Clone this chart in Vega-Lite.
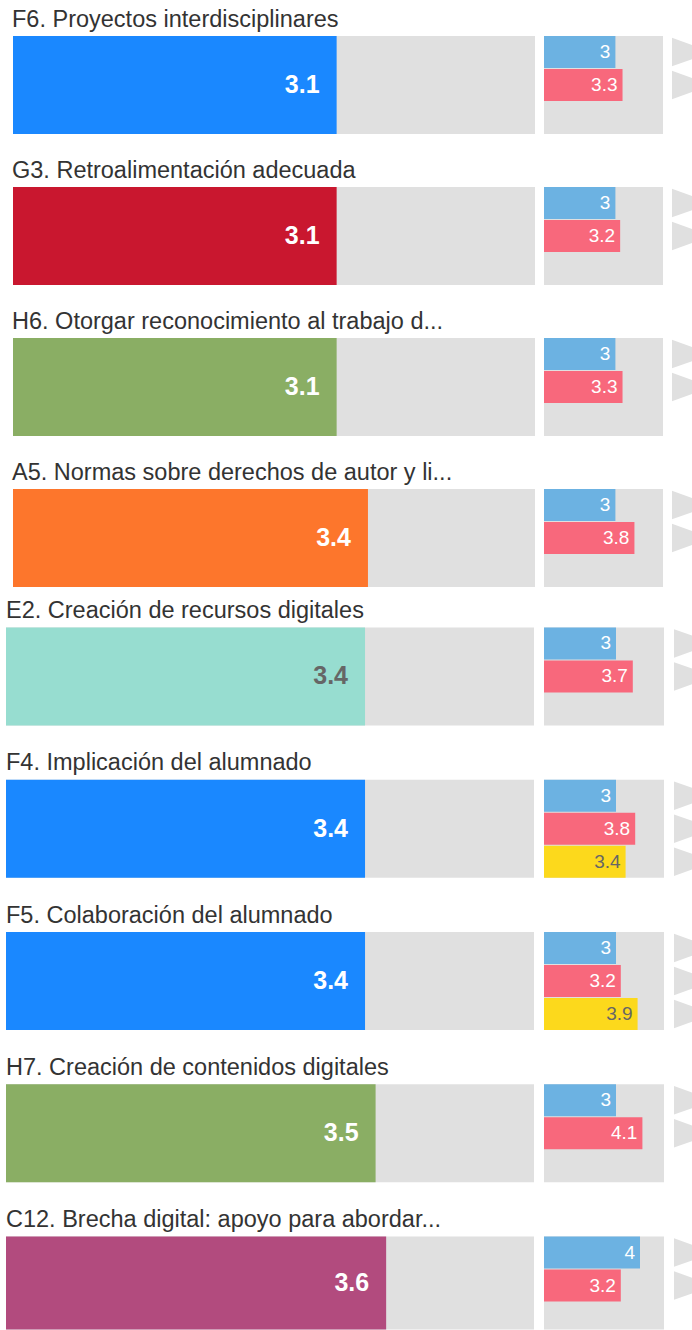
{
  "$schema": "https://vega.github.io/schema/vega-lite/v6.json",
  "padding": {"left": 6, "top": 7, "right": 0, "bottom": 0},
  "background": "white",
  "config": {
    "view": {"stroke": null},
    "font": "Liberation Sans",
    "title": {"font": "Liberation Sans", "fontSize": 23.5, "fontWeight": "normal", "color": "#333333", "anchor": "start", "frame": "group", "baseline": "alphabetic", "offset": 5},
    "style": {
      "big": {"align": "right", "baseline": "middle", "dx": -17, "fontSize": 25, "fontWeight": "bold", "font": "Liberation Sans"},
      "small": {"align": "right", "baseline": "middle", "dx": -5, "fontSize": 19, "font": "Liberation Sans"}
    }
  },
  "datasets": {
    "main": [
      {"id": "F6", "area": "F", "value": 3.1},
      {"id": "G3", "area": "G", "value": 3.1},
      {"id": "H6", "area": "H", "value": 3.1},
      {"id": "A5", "area": "A", "value": 3.4},
      {"id": "E2", "area": "E", "value": 3.4},
      {"id": "F4", "area": "F", "value": 3.4},
      {"id": "F5", "area": "F", "value": 3.4},
      {"id": "H7", "area": "H", "value": 3.5},
      {"id": "C12", "area": "C", "value": 3.6}
    ],
    "sub": [
      {"id": "F6", "s": "s1", "value": 3}, {"id": "F6", "s": "s2", "value": 3.3},
      {"id": "G3", "s": "s1", "value": 3}, {"id": "G3", "s": "s2", "value": 3.2},
      {"id": "H6", "s": "s1", "value": 3}, {"id": "H6", "s": "s2", "value": 3.3},
      {"id": "A5", "s": "s1", "value": 3}, {"id": "A5", "s": "s2", "value": 3.8},
      {"id": "E2", "s": "s1", "value": 3}, {"id": "E2", "s": "s2", "value": 3.7},
      {"id": "F4", "s": "s1", "value": 3}, {"id": "F4", "s": "s2", "value": 3.8}, {"id": "F4", "s": "s3", "value": 3.4},
      {"id": "F5", "s": "s1", "value": 3}, {"id": "F5", "s": "s2", "value": 3.2}, {"id": "F5", "s": "s3", "value": 3.9},
      {"id": "H7", "s": "s1", "value": 3}, {"id": "H7", "s": "s2", "value": 4.1},
      {"id": "C12", "s": "s1", "value": 4}, {"id": "C12", "s": "s2", "value": 3.2}
    ]
  },
  "spacing": 11.4,
  "vconcat": [
    {
      "spacing": 24,
      "vconcat": [
        {
          "title": {"text": "F6. Proyectos interdisciplinares", "dx": 6},
          "spacing": 9,
          "hconcat": [
            {"width": 529, "height": 98, "data": {"name": "main"}, "transform": [{"filter": "datum.id === 'F6'"}],
             "encoding": {"x": {"field": "value", "type": "quantitative", "scale": {"domain": [0, 5], "range": [7, 529]}, "axis": null},
                          "y": {"field": "id", "type": "nominal", "scale": {"type": "band", "paddingInner": 0, "paddingOuter": 0}, "axis": null}},
             "layer": [
               {"mark": {"type": "bar", "color": "#e0e0e0"}, "encoding": {"x": {"datum": 5, "type": "quantitative"}, "x2": {"datum": 0}}},
               {"mark": {"type": "bar"}, "encoding": {"color": {"field": "area", "type": "nominal", "scale": {"domain": ["F", "G", "H", "A", "E", "C"], "range": ["#1a88ff", "#c9172f", "#8aae64", "#fd762c", "#97ddd0", "#b24b7e"]}, "legend": null}}},
               {"mark": {"type": "text", "style": "big"}, "encoding": {"text": {"field": "value", "type": "quantitative", "format": ".1f"}, "color": {"condition": {"test": "datum.area === 'E'", "value": "#666666"}, "value": "#ffffff"}}}
             ]},
            {"width": 119, "height": 98,
             "layer": [
               {"data": {"name": "main"}, "transform": [{"filter": "datum.id === 'F6'"}], "mark": {"type": "bar", "color": "#e0e0e0"},
                "encoding": {"x": {"datum": 5, "type": "quantitative", "scale": {"domain": [0, 5]}, "axis": null}, "x2": {"datum": 0},
                             "y": {"field": "id", "type": "nominal", "scale": {"type": "band", "paddingInner": 0, "paddingOuter": 0}, "axis": null}}},
               {"data": {"name": "sub"}, "transform": [{"filter": "datum.id === 'F6'"}], "mark": {"type": "bar"},
                "encoding": {"x": {"field": "value", "type": "quantitative", "axis": null},
                             "y": {"field": "s", "type": "nominal", "scale": {"type": "band", "domain": ["s1", "s2", "s3"], "paddingInner": 0.03, "paddingOuter": 0}, "axis": null},
                             "fill": {"field": "s", "type": "nominal", "scale": {"domain": ["s1", "s2", "s3"], "range": ["#6cb2e2", "#f8687c", "#fcd91c"]}, "legend": null}}},
               {"data": {"name": "sub"}, "transform": [{"filter": "datum.id === 'F6'"}], "mark": {"type": "text", "style": "small"},
                "encoding": {"x": {"field": "value", "type": "quantitative", "axis": null},
                             "y": {"field": "s", "type": "nominal", "scale": {"type": "band", "domain": ["s1", "s2", "s3"], "paddingInner": 0.03, "paddingOuter": 0}, "axis": null},
                             "text": {"field": "value", "type": "quantitative"},
                             "color": {"condition": {"test": "datum.s === 's3'", "value": "#666666"}, "value": "#ffffff"}}}
             ],
             "resolve": {"scale": {"y": "independent"}}},
            {"width": 20, "height": 98, "data": {"name": "sub"}, "transform": [{"filter": "datum.id === 'F6'"}],
             "mark": {"type": "point", "shape": "M-0.74,-1L2.07,0L-0.74,1Z", "size": 841, "filled": true, "opacity": 1, "color": "#e0e0e0", "strokeWidth": 0, "clip": true},
             "encoding": {"y": {"field": "s", "type": "nominal", "scale": {"type": "band", "domain": ["s1", "s2", "s3"], "paddingInner": 0.03, "paddingOuter": 0}, "axis": null}}}
          ]
        },
        {
          "title": {"text": "G3. Retroalimentación adecuada", "dx": 6},
          "spacing": 9,
          "hconcat": [
            {"width": 529, "height": 98, "data": {"name": "main"}, "transform": [{"filter": "datum.id === 'G3'"}],
             "encoding": {"x": {"field": "value", "type": "quantitative", "scale": {"domain": [0, 5], "range": [7, 529]}, "axis": null},
                          "y": {"field": "id", "type": "nominal", "scale": {"type": "band", "paddingInner": 0, "paddingOuter": 0}, "axis": null}},
             "layer": [
               {"mark": {"type": "bar", "color": "#e0e0e0"}, "encoding": {"x": {"datum": 5, "type": "quantitative"}, "x2": {"datum": 0}}},
               {"mark": {"type": "bar"}, "encoding": {"color": {"field": "area", "type": "nominal", "scale": {"domain": ["F", "G", "H", "A", "E", "C"], "range": ["#1a88ff", "#c9172f", "#8aae64", "#fd762c", "#97ddd0", "#b24b7e"]}, "legend": null}}},
               {"mark": {"type": "text", "style": "big"}, "encoding": {"text": {"field": "value", "type": "quantitative", "format": ".1f"}, "color": {"condition": {"test": "datum.area === 'E'", "value": "#666666"}, "value": "#ffffff"}}}
             ]},
            {"width": 119, "height": 98,
             "layer": [
               {"data": {"name": "main"}, "transform": [{"filter": "datum.id === 'G3'"}], "mark": {"type": "bar", "color": "#e0e0e0"},
                "encoding": {"x": {"datum": 5, "type": "quantitative", "scale": {"domain": [0, 5]}, "axis": null}, "x2": {"datum": 0},
                             "y": {"field": "id", "type": "nominal", "scale": {"type": "band", "paddingInner": 0, "paddingOuter": 0}, "axis": null}}},
               {"data": {"name": "sub"}, "transform": [{"filter": "datum.id === 'G3'"}], "mark": {"type": "bar"},
                "encoding": {"x": {"field": "value", "type": "quantitative", "axis": null},
                             "y": {"field": "s", "type": "nominal", "scale": {"type": "band", "domain": ["s1", "s2", "s3"], "paddingInner": 0.03, "paddingOuter": 0}, "axis": null},
                             "fill": {"field": "s", "type": "nominal", "scale": {"domain": ["s1", "s2", "s3"], "range": ["#6cb2e2", "#f8687c", "#fcd91c"]}, "legend": null}}},
               {"data": {"name": "sub"}, "transform": [{"filter": "datum.id === 'G3'"}], "mark": {"type": "text", "style": "small"},
                "encoding": {"x": {"field": "value", "type": "quantitative", "axis": null},
                             "y": {"field": "s", "type": "nominal", "scale": {"type": "band", "domain": ["s1", "s2", "s3"], "paddingInner": 0.03, "paddingOuter": 0}, "axis": null},
                             "text": {"field": "value", "type": "quantitative"},
                             "color": {"condition": {"test": "datum.s === 's3'", "value": "#666666"}, "value": "#ffffff"}}}
             ],
             "resolve": {"scale": {"y": "independent"}}},
            {"width": 20, "height": 98, "data": {"name": "sub"}, "transform": [{"filter": "datum.id === 'G3'"}],
             "mark": {"type": "point", "shape": "M-0.74,-1L2.07,0L-0.74,1Z", "size": 841, "filled": true, "opacity": 1, "color": "#e0e0e0", "strokeWidth": 0, "clip": true},
             "encoding": {"y": {"field": "s", "type": "nominal", "scale": {"type": "band", "domain": ["s1", "s2", "s3"], "paddingInner": 0.03, "paddingOuter": 0}, "axis": null}}}
          ]
        },
        {
          "title": {"text": "H6. Otorgar reconocimiento al trabajo d...", "dx": 6},
          "spacing": 9,
          "hconcat": [
            {"width": 529, "height": 98, "data": {"name": "main"}, "transform": [{"filter": "datum.id === 'H6'"}],
             "encoding": {"x": {"field": "value", "type": "quantitative", "scale": {"domain": [0, 5], "range": [7, 529]}, "axis": null},
                          "y": {"field": "id", "type": "nominal", "scale": {"type": "band", "paddingInner": 0, "paddingOuter": 0}, "axis": null}},
             "layer": [
               {"mark": {"type": "bar", "color": "#e0e0e0"}, "encoding": {"x": {"datum": 5, "type": "quantitative"}, "x2": {"datum": 0}}},
               {"mark": {"type": "bar"}, "encoding": {"color": {"field": "area", "type": "nominal", "scale": {"domain": ["F", "G", "H", "A", "E", "C"], "range": ["#1a88ff", "#c9172f", "#8aae64", "#fd762c", "#97ddd0", "#b24b7e"]}, "legend": null}}},
               {"mark": {"type": "text", "style": "big"}, "encoding": {"text": {"field": "value", "type": "quantitative", "format": ".1f"}, "color": {"condition": {"test": "datum.area === 'E'", "value": "#666666"}, "value": "#ffffff"}}}
             ]},
            {"width": 119, "height": 98,
             "layer": [
               {"data": {"name": "main"}, "transform": [{"filter": "datum.id === 'H6'"}], "mark": {"type": "bar", "color": "#e0e0e0"},
                "encoding": {"x": {"datum": 5, "type": "quantitative", "scale": {"domain": [0, 5]}, "axis": null}, "x2": {"datum": 0},
                             "y": {"field": "id", "type": "nominal", "scale": {"type": "band", "paddingInner": 0, "paddingOuter": 0}, "axis": null}}},
               {"data": {"name": "sub"}, "transform": [{"filter": "datum.id === 'H6'"}], "mark": {"type": "bar"},
                "encoding": {"x": {"field": "value", "type": "quantitative", "axis": null},
                             "y": {"field": "s", "type": "nominal", "scale": {"type": "band", "domain": ["s1", "s2", "s3"], "paddingInner": 0.03, "paddingOuter": 0}, "axis": null},
                             "fill": {"field": "s", "type": "nominal", "scale": {"domain": ["s1", "s2", "s3"], "range": ["#6cb2e2", "#f8687c", "#fcd91c"]}, "legend": null}}},
               {"data": {"name": "sub"}, "transform": [{"filter": "datum.id === 'H6'"}], "mark": {"type": "text", "style": "small"},
                "encoding": {"x": {"field": "value", "type": "quantitative", "axis": null},
                             "y": {"field": "s", "type": "nominal", "scale": {"type": "band", "domain": ["s1", "s2", "s3"], "paddingInner": 0.03, "paddingOuter": 0}, "axis": null},
                             "text": {"field": "value", "type": "quantitative"},
                             "color": {"condition": {"test": "datum.s === 's3'", "value": "#666666"}, "value": "#ffffff"}}}
             ],
             "resolve": {"scale": {"y": "independent"}}},
            {"width": 20, "height": 98, "data": {"name": "sub"}, "transform": [{"filter": "datum.id === 'H6'"}],
             "mark": {"type": "point", "shape": "M-0.74,-1L2.07,0L-0.74,1Z", "size": 841, "filled": true, "opacity": 1, "color": "#e0e0e0", "strokeWidth": 0, "clip": true},
             "encoding": {"y": {"field": "s", "type": "nominal", "scale": {"type": "band", "domain": ["s1", "s2", "s3"], "paddingInner": 0.03, "paddingOuter": 0}, "axis": null}}}
          ]
        },
        {
          "title": {"text": "A5. Normas sobre derechos de autor y li...", "dx": 6},
          "spacing": 9,
          "hconcat": [
            {"width": 529, "height": 98, "data": {"name": "main"}, "transform": [{"filter": "datum.id === 'A5'"}],
             "encoding": {"x": {"field": "value", "type": "quantitative", "scale": {"domain": [0, 5], "range": [7, 529]}, "axis": null},
                          "y": {"field": "id", "type": "nominal", "scale": {"type": "band", "paddingInner": 0, "paddingOuter": 0}, "axis": null}},
             "layer": [
               {"mark": {"type": "bar", "color": "#e0e0e0"}, "encoding": {"x": {"datum": 5, "type": "quantitative"}, "x2": {"datum": 0}}},
               {"mark": {"type": "bar"}, "encoding": {"color": {"field": "area", "type": "nominal", "scale": {"domain": ["F", "G", "H", "A", "E", "C"], "range": ["#1a88ff", "#c9172f", "#8aae64", "#fd762c", "#97ddd0", "#b24b7e"]}, "legend": null}}},
               {"mark": {"type": "text", "style": "big"}, "encoding": {"text": {"field": "value", "type": "quantitative", "format": ".1f"}, "color": {"condition": {"test": "datum.area === 'E'", "value": "#666666"}, "value": "#ffffff"}}}
             ]},
            {"width": 119, "height": 98,
             "layer": [
               {"data": {"name": "main"}, "transform": [{"filter": "datum.id === 'A5'"}], "mark": {"type": "bar", "color": "#e0e0e0"},
                "encoding": {"x": {"datum": 5, "type": "quantitative", "scale": {"domain": [0, 5]}, "axis": null}, "x2": {"datum": 0},
                             "y": {"field": "id", "type": "nominal", "scale": {"type": "band", "paddingInner": 0, "paddingOuter": 0}, "axis": null}}},
               {"data": {"name": "sub"}, "transform": [{"filter": "datum.id === 'A5'"}], "mark": {"type": "bar"},
                "encoding": {"x": {"field": "value", "type": "quantitative", "axis": null},
                             "y": {"field": "s", "type": "nominal", "scale": {"type": "band", "domain": ["s1", "s2", "s3"], "paddingInner": 0.03, "paddingOuter": 0}, "axis": null},
                             "fill": {"field": "s", "type": "nominal", "scale": {"domain": ["s1", "s2", "s3"], "range": ["#6cb2e2", "#f8687c", "#fcd91c"]}, "legend": null}}},
               {"data": {"name": "sub"}, "transform": [{"filter": "datum.id === 'A5'"}], "mark": {"type": "text", "style": "small"},
                "encoding": {"x": {"field": "value", "type": "quantitative", "axis": null},
                             "y": {"field": "s", "type": "nominal", "scale": {"type": "band", "domain": ["s1", "s2", "s3"], "paddingInner": 0.03, "paddingOuter": 0}, "axis": null},
                             "text": {"field": "value", "type": "quantitative"},
                             "color": {"condition": {"test": "datum.s === 's3'", "value": "#666666"}, "value": "#ffffff"}}}
             ],
             "resolve": {"scale": {"y": "independent"}}},
            {"width": 20, "height": 98, "data": {"name": "sub"}, "transform": [{"filter": "datum.id === 'A5'"}],
             "mark": {"type": "point", "shape": "M-0.74,-1L2.07,0L-0.74,1Z", "size": 841, "filled": true, "opacity": 1, "color": "#e0e0e0", "strokeWidth": 0, "clip": true},
             "encoding": {"y": {"field": "s", "type": "nominal", "scale": {"type": "band", "domain": ["s1", "s2", "s3"], "paddingInner": 0.03, "paddingOuter": 0}, "axis": null}}}
          ]
        }
      ]
    },
    {
      "spacing": 25.3,
      "vconcat": [
        {
          "title": {"text": "E2. Creación de recursos digitales", "dx": 0},
          "spacing": 9,
          "hconcat": [
            {"width": 529, "height": 98, "data": {"name": "main"}, "transform": [{"filter": "datum.id === 'E2'"}],
             "encoding": {"x": {"field": "value", "type": "quantitative", "scale": {"domain": [0, 5], "range": [0, 528]}, "axis": null},
                          "y": {"field": "id", "type": "nominal", "scale": {"type": "band", "paddingInner": 0, "paddingOuter": 0}, "axis": null}},
             "layer": [
               {"mark": {"type": "bar", "color": "#e0e0e0"}, "encoding": {"x": {"datum": 5, "type": "quantitative"}, "x2": {"datum": 0}}},
               {"mark": {"type": "bar"}, "encoding": {"color": {"field": "area", "type": "nominal", "scale": {"domain": ["F", "G", "H", "A", "E", "C"], "range": ["#1a88ff", "#c9172f", "#8aae64", "#fd762c", "#97ddd0", "#b24b7e"]}, "legend": null}}},
               {"mark": {"type": "text", "style": "big"}, "encoding": {"text": {"field": "value", "type": "quantitative", "format": ".1f"}, "color": {"condition": {"test": "datum.area === 'E'", "value": "#666666"}, "value": "#ffffff"}}}
             ]},
            {"width": 119, "height": 98,
             "layer": [
               {"data": {"name": "main"}, "transform": [{"filter": "datum.id === 'E2'"}], "mark": {"type": "bar", "color": "#e0e0e0"},
                "encoding": {"x": {"datum": 5, "type": "quantitative", "scale": {"domain": [0, 5], "range": [-2, 118]}, "axis": null}, "x2": {"datum": 0},
                             "y": {"field": "id", "type": "nominal", "scale": {"type": "band", "paddingInner": 0, "paddingOuter": 0}, "axis": null}}},
               {"data": {"name": "sub"}, "transform": [{"filter": "datum.id === 'E2'"}], "mark": {"type": "bar"},
                "encoding": {"x": {"field": "value", "type": "quantitative", "scale": {"domain": [0, 5], "range": [-2, 118]}, "axis": null},
                             "y": {"field": "s", "type": "nominal", "scale": {"type": "band", "domain": ["s1", "s2", "s3"], "paddingInner": 0.03, "paddingOuter": 0}, "axis": null},
                             "fill": {"field": "s", "type": "nominal", "scale": {"domain": ["s1", "s2", "s3"], "range": ["#6cb2e2", "#f8687c", "#fcd91c"]}, "legend": null}}},
               {"data": {"name": "sub"}, "transform": [{"filter": "datum.id === 'E2'"}], "mark": {"type": "text", "style": "small"},
                "encoding": {"x": {"field": "value", "type": "quantitative", "scale": {"domain": [0, 5], "range": [-2, 118]}, "axis": null},
                             "y": {"field": "s", "type": "nominal", "scale": {"type": "band", "domain": ["s1", "s2", "s3"], "paddingInner": 0.03, "paddingOuter": 0}, "axis": null},
                             "text": {"field": "value", "type": "quantitative"},
                             "color": {"condition": {"test": "datum.s === 's3'", "value": "#666666"}, "value": "#ffffff"}}}
             ],
             "resolve": {"scale": {"y": "independent"}}},
            {"width": 20, "height": 98, "data": {"name": "sub"}, "transform": [{"filter": "datum.id === 'E2'"}],
             "mark": {"type": "point", "shape": "M-0.74,-1L2.07,0L-0.74,1Z", "size": 841, "filled": true, "opacity": 1, "color": "#e0e0e0", "strokeWidth": 0, "clip": true},
             "encoding": {"y": {"field": "s", "type": "nominal", "scale": {"type": "band", "domain": ["s1", "s2", "s3"], "paddingInner": 0.03, "paddingOuter": 0}, "axis": null}}}
          ]
        },
        {
          "title": {"text": "F4. Implicación del alumnado", "dx": 0},
          "spacing": 9,
          "hconcat": [
            {"width": 529, "height": 98, "data": {"name": "main"}, "transform": [{"filter": "datum.id === 'F4'"}],
             "encoding": {"x": {"field": "value", "type": "quantitative", "scale": {"domain": [0, 5], "range": [0, 528]}, "axis": null},
                          "y": {"field": "id", "type": "nominal", "scale": {"type": "band", "paddingInner": 0, "paddingOuter": 0}, "axis": null}},
             "layer": [
               {"mark": {"type": "bar", "color": "#e0e0e0"}, "encoding": {"x": {"datum": 5, "type": "quantitative"}, "x2": {"datum": 0}}},
               {"mark": {"type": "bar"}, "encoding": {"color": {"field": "area", "type": "nominal", "scale": {"domain": ["F", "G", "H", "A", "E", "C"], "range": ["#1a88ff", "#c9172f", "#8aae64", "#fd762c", "#97ddd0", "#b24b7e"]}, "legend": null}}},
               {"mark": {"type": "text", "style": "big"}, "encoding": {"text": {"field": "value", "type": "quantitative", "format": ".1f"}, "color": {"condition": {"test": "datum.area === 'E'", "value": "#666666"}, "value": "#ffffff"}}}
             ]},
            {"width": 119, "height": 98,
             "layer": [
               {"data": {"name": "main"}, "transform": [{"filter": "datum.id === 'F4'"}], "mark": {"type": "bar", "color": "#e0e0e0"},
                "encoding": {"x": {"datum": 5, "type": "quantitative", "scale": {"domain": [0, 5], "range": [-2, 118]}, "axis": null}, "x2": {"datum": 0},
                             "y": {"field": "id", "type": "nominal", "scale": {"type": "band", "paddingInner": 0, "paddingOuter": 0}, "axis": null}}},
               {"data": {"name": "sub"}, "transform": [{"filter": "datum.id === 'F4'"}], "mark": {"type": "bar"},
                "encoding": {"x": {"field": "value", "type": "quantitative", "scale": {"domain": [0, 5], "range": [-2, 118]}, "axis": null},
                             "y": {"field": "s", "type": "nominal", "scale": {"type": "band", "domain": ["s1", "s2", "s3"], "paddingInner": 0.03, "paddingOuter": 0}, "axis": null},
                             "fill": {"field": "s", "type": "nominal", "scale": {"domain": ["s1", "s2", "s3"], "range": ["#6cb2e2", "#f8687c", "#fcd91c"]}, "legend": null}}},
               {"data": {"name": "sub"}, "transform": [{"filter": "datum.id === 'F4'"}], "mark": {"type": "text", "style": "small"},
                "encoding": {"x": {"field": "value", "type": "quantitative", "scale": {"domain": [0, 5], "range": [-2, 118]}, "axis": null},
                             "y": {"field": "s", "type": "nominal", "scale": {"type": "band", "domain": ["s1", "s2", "s3"], "paddingInner": 0.03, "paddingOuter": 0}, "axis": null},
                             "text": {"field": "value", "type": "quantitative"},
                             "color": {"condition": {"test": "datum.s === 's3'", "value": "#666666"}, "value": "#ffffff"}}}
             ],
             "resolve": {"scale": {"y": "independent"}}},
            {"width": 20, "height": 98, "data": {"name": "sub"}, "transform": [{"filter": "datum.id === 'F4'"}],
             "mark": {"type": "point", "shape": "M-0.74,-1L2.07,0L-0.74,1Z", "size": 841, "filled": true, "opacity": 1, "color": "#e0e0e0", "strokeWidth": 0, "clip": true},
             "encoding": {"y": {"field": "s", "type": "nominal", "scale": {"type": "band", "domain": ["s1", "s2", "s3"], "paddingInner": 0.03, "paddingOuter": 0}, "axis": null}}}
          ]
        },
        {
          "title": {"text": "F5. Colaboración del alumnado", "dx": 0},
          "spacing": 9,
          "hconcat": [
            {"width": 529, "height": 98, "data": {"name": "main"}, "transform": [{"filter": "datum.id === 'F5'"}],
             "encoding": {"x": {"field": "value", "type": "quantitative", "scale": {"domain": [0, 5], "range": [0, 528]}, "axis": null},
                          "y": {"field": "id", "type": "nominal", "scale": {"type": "band", "paddingInner": 0, "paddingOuter": 0}, "axis": null}},
             "layer": [
               {"mark": {"type": "bar", "color": "#e0e0e0"}, "encoding": {"x": {"datum": 5, "type": "quantitative"}, "x2": {"datum": 0}}},
               {"mark": {"type": "bar"}, "encoding": {"color": {"field": "area", "type": "nominal", "scale": {"domain": ["F", "G", "H", "A", "E", "C"], "range": ["#1a88ff", "#c9172f", "#8aae64", "#fd762c", "#97ddd0", "#b24b7e"]}, "legend": null}}},
               {"mark": {"type": "text", "style": "big"}, "encoding": {"text": {"field": "value", "type": "quantitative", "format": ".1f"}, "color": {"condition": {"test": "datum.area === 'E'", "value": "#666666"}, "value": "#ffffff"}}}
             ]},
            {"width": 119, "height": 98,
             "layer": [
               {"data": {"name": "main"}, "transform": [{"filter": "datum.id === 'F5'"}], "mark": {"type": "bar", "color": "#e0e0e0"},
                "encoding": {"x": {"datum": 5, "type": "quantitative", "scale": {"domain": [0, 5], "range": [-2, 118]}, "axis": null}, "x2": {"datum": 0},
                             "y": {"field": "id", "type": "nominal", "scale": {"type": "band", "paddingInner": 0, "paddingOuter": 0}, "axis": null}}},
               {"data": {"name": "sub"}, "transform": [{"filter": "datum.id === 'F5'"}], "mark": {"type": "bar"},
                "encoding": {"x": {"field": "value", "type": "quantitative", "scale": {"domain": [0, 5], "range": [-2, 118]}, "axis": null},
                             "y": {"field": "s", "type": "nominal", "scale": {"type": "band", "domain": ["s1", "s2", "s3"], "paddingInner": 0.03, "paddingOuter": 0}, "axis": null},
                             "fill": {"field": "s", "type": "nominal", "scale": {"domain": ["s1", "s2", "s3"], "range": ["#6cb2e2", "#f8687c", "#fcd91c"]}, "legend": null}}},
               {"data": {"name": "sub"}, "transform": [{"filter": "datum.id === 'F5'"}], "mark": {"type": "text", "style": "small"},
                "encoding": {"x": {"field": "value", "type": "quantitative", "scale": {"domain": [0, 5], "range": [-2, 118]}, "axis": null},
                             "y": {"field": "s", "type": "nominal", "scale": {"type": "band", "domain": ["s1", "s2", "s3"], "paddingInner": 0.03, "paddingOuter": 0}, "axis": null},
                             "text": {"field": "value", "type": "quantitative"},
                             "color": {"condition": {"test": "datum.s === 's3'", "value": "#666666"}, "value": "#ffffff"}}}
             ],
             "resolve": {"scale": {"y": "independent"}}},
            {"width": 20, "height": 98, "data": {"name": "sub"}, "transform": [{"filter": "datum.id === 'F5'"}],
             "mark": {"type": "point", "shape": "M-0.74,-1L2.07,0L-0.74,1Z", "size": 841, "filled": true, "opacity": 1, "color": "#e0e0e0", "strokeWidth": 0, "clip": true},
             "encoding": {"y": {"field": "s", "type": "nominal", "scale": {"type": "band", "domain": ["s1", "s2", "s3"], "paddingInner": 0.03, "paddingOuter": 0}, "axis": null}}}
          ]
        },
        {
          "title": {"text": "H7. Creación de contenidos digitales", "dx": 0},
          "spacing": 9,
          "hconcat": [
            {"width": 529, "height": 98, "data": {"name": "main"}, "transform": [{"filter": "datum.id === 'H7'"}],
             "encoding": {"x": {"field": "value", "type": "quantitative", "scale": {"domain": [0, 5], "range": [0, 528]}, "axis": null},
                          "y": {"field": "id", "type": "nominal", "scale": {"type": "band", "paddingInner": 0, "paddingOuter": 0}, "axis": null}},
             "layer": [
               {"mark": {"type": "bar", "color": "#e0e0e0"}, "encoding": {"x": {"datum": 5, "type": "quantitative"}, "x2": {"datum": 0}}},
               {"mark": {"type": "bar"}, "encoding": {"color": {"field": "area", "type": "nominal", "scale": {"domain": ["F", "G", "H", "A", "E", "C"], "range": ["#1a88ff", "#c9172f", "#8aae64", "#fd762c", "#97ddd0", "#b24b7e"]}, "legend": null}}},
               {"mark": {"type": "text", "style": "big"}, "encoding": {"text": {"field": "value", "type": "quantitative", "format": ".1f"}, "color": {"condition": {"test": "datum.area === 'E'", "value": "#666666"}, "value": "#ffffff"}}}
             ]},
            {"width": 119, "height": 98,
             "layer": [
               {"data": {"name": "main"}, "transform": [{"filter": "datum.id === 'H7'"}], "mark": {"type": "bar", "color": "#e0e0e0"},
                "encoding": {"x": {"datum": 5, "type": "quantitative", "scale": {"domain": [0, 5], "range": [-2, 118]}, "axis": null}, "x2": {"datum": 0},
                             "y": {"field": "id", "type": "nominal", "scale": {"type": "band", "paddingInner": 0, "paddingOuter": 0}, "axis": null}}},
               {"data": {"name": "sub"}, "transform": [{"filter": "datum.id === 'H7'"}], "mark": {"type": "bar"},
                "encoding": {"x": {"field": "value", "type": "quantitative", "scale": {"domain": [0, 5], "range": [-2, 118]}, "axis": null},
                             "y": {"field": "s", "type": "nominal", "scale": {"type": "band", "domain": ["s1", "s2", "s3"], "paddingInner": 0.03, "paddingOuter": 0}, "axis": null},
                             "fill": {"field": "s", "type": "nominal", "scale": {"domain": ["s1", "s2", "s3"], "range": ["#6cb2e2", "#f8687c", "#fcd91c"]}, "legend": null}}},
               {"data": {"name": "sub"}, "transform": [{"filter": "datum.id === 'H7'"}], "mark": {"type": "text", "style": "small"},
                "encoding": {"x": {"field": "value", "type": "quantitative", "scale": {"domain": [0, 5], "range": [-2, 118]}, "axis": null},
                             "y": {"field": "s", "type": "nominal", "scale": {"type": "band", "domain": ["s1", "s2", "s3"], "paddingInner": 0.03, "paddingOuter": 0}, "axis": null},
                             "text": {"field": "value", "type": "quantitative"},
                             "color": {"condition": {"test": "datum.s === 's3'", "value": "#666666"}, "value": "#ffffff"}}}
             ],
             "resolve": {"scale": {"y": "independent"}}},
            {"width": 20, "height": 98, "data": {"name": "sub"}, "transform": [{"filter": "datum.id === 'H7'"}],
             "mark": {"type": "point", "shape": "M-0.74,-1L2.07,0L-0.74,1Z", "size": 841, "filled": true, "opacity": 1, "color": "#e0e0e0", "strokeWidth": 0, "clip": true},
             "encoding": {"y": {"field": "s", "type": "nominal", "scale": {"type": "band", "domain": ["s1", "s2", "s3"], "paddingInner": 0.03, "paddingOuter": 0}, "axis": null}}}
          ]
        },
        {
          "title": {"text": "C12. Brecha digital: apoyo para abordar...", "dx": 0},
          "spacing": 9,
          "hconcat": [
            {"width": 529, "height": 93, "data": {"name": "main"}, "transform": [{"filter": "datum.id === 'C12'"}],
             "encoding": {"x": {"field": "value", "type": "quantitative", "scale": {"domain": [0, 5], "range": [0, 528]}, "axis": null},
                          "y": {"field": "id", "type": "nominal", "scale": {"type": "band", "paddingInner": 0, "paddingOuter": 0}, "axis": null}},
             "layer": [
               {"mark": {"type": "bar", "color": "#e0e0e0"}, "encoding": {"x": {"datum": 5, "type": "quantitative"}, "x2": {"datum": 0}}},
               {"mark": {"type": "bar"}, "encoding": {"color": {"field": "area", "type": "nominal", "scale": {"domain": ["F", "G", "H", "A", "E", "C"], "range": ["#1a88ff", "#c9172f", "#8aae64", "#fd762c", "#97ddd0", "#b24b7e"]}, "legend": null}}},
               {"mark": {"type": "text", "style": "big"}, "encoding": {"text": {"field": "value", "type": "quantitative", "format": ".1f"}, "color": {"condition": {"test": "datum.area === 'E'", "value": "#666666"}, "value": "#ffffff"}}}
             ]},
            {"width": 119, "height": 93,
             "layer": [
               {"data": {"name": "main"}, "transform": [{"filter": "datum.id === 'C12'"}], "mark": {"type": "bar", "color": "#e0e0e0"},
                "encoding": {"x": {"datum": 5, "type": "quantitative", "scale": {"domain": [0, 5], "range": [-2, 118]}, "axis": null}, "x2": {"datum": 0},
                             "y": {"field": "id", "type": "nominal", "scale": {"type": "band", "paddingInner": 0, "paddingOuter": 0}, "axis": null}}},
               {"data": {"name": "sub"}, "transform": [{"filter": "datum.id === 'C12'"}], "mark": {"type": "bar"},
                "encoding": {"x": {"field": "value", "type": "quantitative", "scale": {"domain": [0, 5], "range": [-2, 118]}, "axis": null},
                             "y": {"field": "s", "type": "nominal", "scale": {"type": "band", "domain": ["s1", "s2", "s3"], "range": [0, 98], "paddingInner": 0.03, "paddingOuter": 0}, "axis": null},
                             "fill": {"field": "s", "type": "nominal", "scale": {"domain": ["s1", "s2", "s3"], "range": ["#6cb2e2", "#f8687c", "#fcd91c"]}, "legend": null}}},
               {"data": {"name": "sub"}, "transform": [{"filter": "datum.id === 'C12'"}], "mark": {"type": "text", "style": "small"},
                "encoding": {"x": {"field": "value", "type": "quantitative", "scale": {"domain": [0, 5], "range": [-2, 118]}, "axis": null},
                             "y": {"field": "s", "type": "nominal", "scale": {"type": "band", "domain": ["s1", "s2", "s3"], "range": [0, 98], "paddingInner": 0.03, "paddingOuter": 0}, "axis": null},
                             "text": {"field": "value", "type": "quantitative"},
                             "color": {"condition": {"test": "datum.s === 's3'", "value": "#666666"}, "value": "#ffffff"}}}
             ],
             "resolve": {"scale": {"y": "independent"}}},
            {"width": 20, "height": 93, "data": {"name": "sub"}, "transform": [{"filter": "datum.id === 'C12'"}],
             "mark": {"type": "point", "shape": "M-0.74,-1L2.07,0L-0.74,1Z", "size": 841, "filled": true, "opacity": 1, "color": "#e0e0e0", "strokeWidth": 0, "clip": true},
             "encoding": {"y": {"field": "s", "type": "nominal", "scale": {"type": "band", "domain": ["s1", "s2", "s3"], "range": [0, 98], "paddingInner": 0.03, "paddingOuter": 0}, "axis": null}}}
          ]
        }
      ]
    }
  ]
}
